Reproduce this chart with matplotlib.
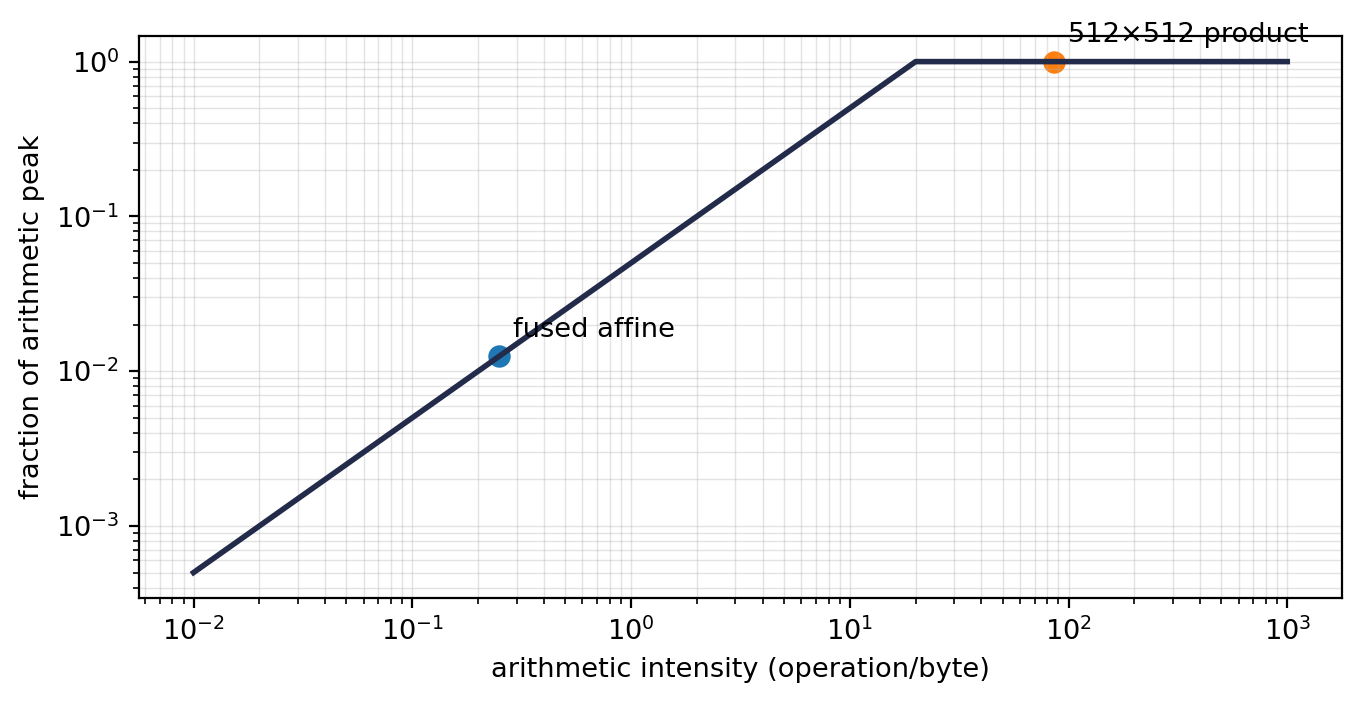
import numpy as np
import matplotlib
matplotlib.use("Agg")
import matplotlib.pyplot as plt

# roofline data
intensity = [0.01, 20.0, 1000.0]
fraction = [0.0005, 1.0, 1.0]
point_labels = ["fused affine", "512×512 product"]
point_x = [0.25, 86.0]
point_y = [0.0125, 1.0]
point_colors = ["#1f77b4", "#ff7f0e"]

fs = 9.8
fig = plt.figure(figsize=(6.805, 3.535), dpi=200)
ax = fig.add_axes([0.102, 0.154, 0.884, 0.795])
ax.plot(intensity, fraction, color="#232b4a", lw=2.0, zorder=2)
for lab, x, y, c in zip(point_labels, point_x, point_y, point_colors):
    ax.scatter([x], [y], color=c, s=50, zorder=1.5)
    ax.annotate(lab, (x, y), xytext=(5, 7), textcoords="offset points", fontsize=fs)
ax.set_xscale("log")
ax.set_yscale("log")
ax.grid(True, which="both", alpha=0.35, lw=0.5)
ax.set_xlabel("arithmetic intensity (operation/byte)", fontsize=fs)
ax.set_ylabel("fraction of arithmetic peak", fontsize=fs)
ax.tick_params(labelsize=fs)
fig.savefig("out.png", dpi=200)
